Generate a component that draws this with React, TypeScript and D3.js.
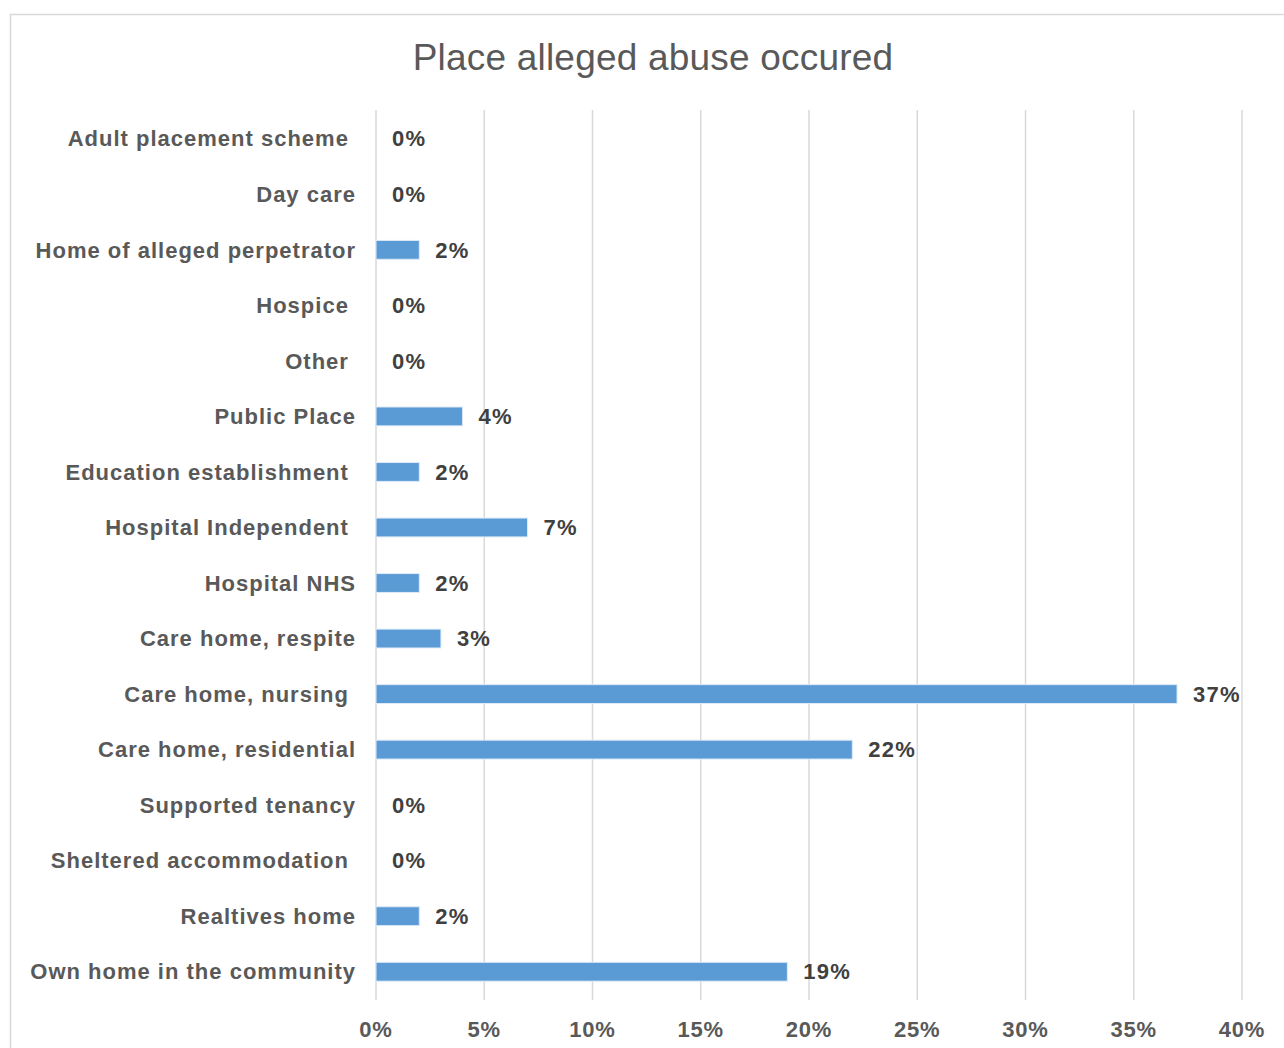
import React, { useEffect, useRef } from 'react';
import * as d3 from 'd3';

// categories top to bottom (trailing spaces come from the source sheet)
const categories = [
  'Adult placement scheme ',
  'Day care',
  'Home of alleged perpetrator',
  'Hospice ',
  'Other ',
  'Public Place',
  'Education establishment ',
  'Hospital Independent ',
  'Hospital NHS',
  'Care home, respite',
  'Care home, nursing ',
  'Care home, residential',
  'Supported tenancy',
  'Sheltered accommodation ',
  'Realtives home',
  'Own home in the community',
];
const values = [0, 0, 2, 0, 0, 4, 2, 7, 2, 3, 37, 22, 0, 0, 2, 19];
const xTicks = [0, 5, 10, 15, 20, 25, 30, 35, 40];
const title = 'Place alleged abuse occured';

const W = 1284;
const H = 1048;
const FONT = '"Liberation Sans", Arial, Helvetica, sans-serif';

export default function App() {
  const svgRef = useRef<SVGSVGElement>(null);

  useEffect(() => {
    if (!svgRef.current) return;
    const svg = d3.select(svgRef.current);
    svg.selectAll('*').remove();

    const x = d3.scaleLinear().domain([0, 40]).range([376, 1242]);
    const y = d3.scaleBand<string>()
      .domain(categories)
      .range([111, 999.5])
      .paddingInner(0.66)
      .paddingOuter(0.33);

    // white background + frame
    svg.append('rect').attr('width', W).attr('height', H).attr('fill', '#ffffff');
    svg.append('rect')
      .attr('x', 10.5).attr('y', 14.5)
      .attr('width', 1300).attr('height', 1100)
      .attr('fill', 'none')
      .attr('stroke', '#d9d9d9')
      .attr('stroke-width', 1.5);

    // title
    svg.append('text')
      .attr('x', 653).attr('y', 57)
      .attr('dy', '0.35em')
      .attr('text-anchor', 'middle')
      .style('font-family', FONT)
      .style('font-size', '37px')
      .style('letter-spacing', '0.2px')
      .style('fill', '#595959')
      .text(title);

    // gridlines
    svg.append('g')
      .selectAll('line')
      .data(xTicks)
      .enter()
      .append('line')
      .attr('x1', (d) => x(d)).attr('x2', (d) => x(d))
      .attr('y1', 110).attr('y2', 1000)
      .attr('stroke', '#d9d9d9')
      .attr('stroke-width', 1.5);

    // x tick labels
    svg.append('g')
      .selectAll('text')
      .data(xTicks)
      .enter()
      .append('text')
      .attr('x', (d) => x(d))
      .attr('y', 1029)
      .attr('dy', '0.35em')
      .attr('text-anchor', 'middle')
      .style('font-family', FONT)
      .style('font-size', '22px')
      .style('font-weight', 'bold')
      .style('letter-spacing', '0.8px')
      .style('fill', '#595959')
      .text((d) => `${d}%`);

    const rows = categories.map((c, i) => ({ c, v: values[i] }));

    // bars
    svg.append('g')
      .selectAll('rect')
      .data(rows.filter((d) => d.v > 0))
      .enter()
      .append('rect')
      .attr('x', x(0))
      .attr('y', (d) => y(d.c)!)
      .attr('width', (d) => x(d.v) - x(0))
      .attr('height', y.bandwidth())
      .attr('fill', '#5b9bd5')
      .attr('stroke', '#deebf7')
      .attr('stroke-width', 1);

    // category labels
    svg.append('g')
      .selectAll('text')
      .data(rows)
      .enter()
      .append('text')
      .attr('xml:space', 'preserve')
      .style('white-space', 'pre')
      .attr('x', 356)
      .attr('y', (d) => y(d.c)! + y.bandwidth() / 2)
      .attr('dy', '0.35em')
      .attr('text-anchor', 'end')
      .style('font-family', FONT)
      .style('font-size', '22px')
      .style('font-weight', 'bold')
      .style('letter-spacing', '1px')
      .style('fill', '#595959')
      .text((d) => d.c);

    // value labels
    svg.append('g')
      .selectAll('text')
      .data(rows)
      .enter()
      .append('text')
      .attr('x', (d) => x(d.v) + 16)
      .attr('y', (d) => y(d.c)! + y.bandwidth() / 2)
      .attr('dy', '0.35em')
      .style('font-family', FONT)
      .style('font-size', '22px')
      .style('font-weight', 'bold')
      .style('letter-spacing', '1.2px')
      .style('fill', '#404040')
      .text((d) => `${d.v}%`);
  }, []);

  return (
    <svg
      ref={svgRef}
      width={W}
      height={H}
      style={{ position: 'absolute', left: 0, top: 0, display: 'block' }}
    />
  );
}
